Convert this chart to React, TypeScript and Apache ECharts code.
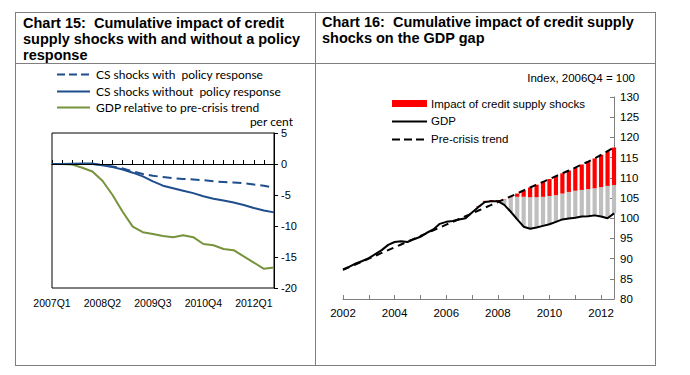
import React, { useEffect, useRef } from "react";
import * as echarts from "echarts";

// ---------- Chart 15 data ----------
const leftQuarters = [
  "2007Q1", "2007Q2", "2007Q3", "2007Q4",
  "2008Q1", "2008Q2", "2008Q3", "2008Q4",
  "2009Q1", "2009Q2", "2009Q3", "2009Q4",
  "2010Q1", "2010Q2", "2010Q3", "2010Q4",
  "2011Q1", "2011Q2", "2011Q3", "2011Q4",
  "2012Q1", "2012Q2", "2012Q3",
];
const withPolicy = [0, 0, 0, 0, 0, -0.2, -0.4, -0.7, -1.2, -1.6, -1.9, -2.1, -2.3, -2.4, -2.5, -2.6, -2.8, -2.9, -3.0, -3.1, -3.3, -3.5, -3.8];
const withoutPolicy = [0, 0, 0.05, 0.1, 0.1, -0.2, -0.5, -0.9, -1.4, -2.0, -2.8, -3.5, -3.9, -4.3, -4.7, -5.2, -5.6, -5.9, -6.2, -6.6, -7.1, -7.5, -7.8];
const gdpVsTrend = [0, 0, -0.1, -0.6, -1.2, -2.7, -5.0, -7.7, -10.1, -11.0, -11.3, -11.6, -11.8, -11.5, -11.8, -12.9, -13.1, -13.7, -13.9, -14.9, -15.9, -16.9, -16.7];
const leftYTicks = { min: -20, max: 5, interval: 5 };
const leftLegend = ["CS shocks with  policy response", "CS shocks without  policy response", "GDP relative to pre-crisis trend"];

// ---------- Chart 16 data ----------
const rightQuarters = [
  "2002Q1", "2002Q2", "2002Q3", "2002Q4",
  "2003Q1", "2003Q2", "2003Q3", "2003Q4",
  "2004Q1", "2004Q2", "2004Q3", "2004Q4",
  "2005Q1", "2005Q2", "2005Q3", "2005Q4",
  "2006Q1", "2006Q2", "2006Q3", "2006Q4",
  "2007Q1", "2007Q2", "2007Q3", "2007Q4",
  "2008Q1", "2008Q2", "2008Q3", "2008Q4",
  "2009Q1", "2009Q2", "2009Q3", "2009Q4",
  "2010Q1", "2010Q2", "2010Q3", "2010Q4",
  "2011Q1", "2011Q2", "2011Q3", "2011Q4",
  "2012Q1", "2012Q2", "2012Q3",
];
const gdpIndex = [
  87.3, 88.0, 88.8, 89.4, 90.1, 91.1, 92.1, 93.4, 94.1, 94.3, 94.1, 94.8, 95.4, 96.4, 97.2, 98.6,
  99.1, 99.3, 99.7, 100.0, 101.4, 102.8, 104.0, 104.2, 104.2, 103.3, 101.6, 99.7, 97.9, 97.4, 97.7,
  98.1, 98.5, 99.1, 99.7, 99.9, 100.1, 100.4, 100.5, 100.7, 100.4, 100.0, 101.2,
];
const preCrisisTrend = [
  87.2, 87.9, 88.6, 89.3, 90.0, 90.7, 91.4, 92.1, 92.8, 93.5, 94.2, 94.9, 95.6, 96.3, 97.0, 97.7,
  98.4, 99.1, 99.8, 100.5, 101.2, 101.9, 102.6, 103.3, 104.0, 104.7, 105.4, 106.1, 106.9, 107.6, 108.3,
  109.0, 109.7, 110.4, 111.1, 111.8, 112.5, 113.3, 114.0, 114.8, 115.7, 116.6, 117.5,
];
// level of the grey bar tops (GDP without credit supply shocks); null where no grey bar
const noShockLevel = [
  null, null, null, null, null, null, null, null, null, null, null, null, null, null, null, null,
  null, null, null, null, null, null, null, null, null, 104.6, 105.2, 105.3, 105.3, 105.2, 105.2,
  105.3, 105.5, 105.7, 106.1, 106.5, 106.8, 107.0, 107.2, 107.4, 107.7, 108.0, 108.2,
];
// red bar heights: impact of credit supply shocks
const shockImpact = [
  null, null, null, null, null, null, null, null, null, null, null, null, null, null, null, null,
  null, null, null, null, null, 0.2, 0.3, 0.3, 0.3, 0.1, 0.2, 0.8, 1.6, 2.4, 3.1,
  3.7, 4.2, 4.7, 5.0, 5.3, 5.7, 6.3, 6.8, 7.4, 8.0, 8.6, 9.3,
];
const rightYTicks = { min: 80, max: 130, interval: 5 };
const rightLegend = ["Impact of credit supply shocks", "GDP", "Pre-crisis trend"];

const FRAME = "#7F7F7F";
const BLUE = "#1F4E8C";
const GREEN = "#77933C";
const ARIAL = "Liberation Sans, Arial, sans-serif";
const CALIBRI = "Lato, 'Open Sans', sans-serif";

export default function App() {
  const ref = useRef<HTMLDivElement>(null);

  useEffect(() => {
    if (!ref.current) return;
    const chart = echarts.init(ref.current, null, { renderer: "svg" });

    const barBase = gdpIndex.map((g, i) => (shockImpact[i] == null ? "-" : g));
    const barGrey = gdpIndex.map((g, i) =>
      shockImpact[i] == null ? "-" : noShockLevel[i] == null ? 0 : +((noShockLevel[i] as number) - g).toFixed(2)
    );
    const barRed = shockImpact.map((v) => (v == null ? "-" : v));

    const titleText = (x: number, y: number, text: string) => ({
      type: "text",
      x,
      y,
      style: { text, fill: "#000", font: `bold 14.5px ${ARIAL}`, verticalAlign: "middle", align: "left" },
    });
    const frameLine = (x1: number, y1: number, x2: number, y2: number) => ({
      type: "line",
      shape: { x1, y1, x2, y2 },
      style: { stroke: FRAME, lineWidth: 1 },
    });
    const legendLine = (x1: number, x2: number, y: number, color: string, dash?: number[]) => ({
      type: "line",
      shape: { x1, y1: y, x2, y2: y },
      style: { stroke: color, lineWidth: 2, lineDash: dash || null },
    });
    const legendText = (x: number, y: number, text: string, font: string) => ({
      type: "text",
      x,
      y,
      style: { text, fill: "#000", font, verticalAlign: "middle", align: "left" },
    });

    const leftFont = `12px ${CALIBRI}`;
    const rightFont = `11.5px ${ARIAL}`;

    const option: any = {
      animation: false,
      backgroundColor: "#fff",
      grid: [
        { left: 52, top: 133, width: 222, height: 155, show: true, borderColor: "#000", borderWidth: 1, backgroundColor: "transparent" },
        { left: 343, top: 97, width: 271, height: 202 },
      ],
      xAxis: [
        {
          type: "category",
          gridIndex: 0,
          data: leftQuarters,
          boundaryGap: false,
          axisLine: { lineStyle: { color: "#000", width: 1 } },
          axisTick: { inside: true, length: 4, interval: 0, lineStyle: { color: "#000" } },
          axisLabel: { interval: 4, fontFamily: ARIAL, fontSize: 10.5, color: "#000", margin: 9 },
          splitLine: { show: false },
        },
        {
          type: "category",
          gridIndex: 1,
          data: rightQuarters,
          boundaryGap: false,
          axisLine: { lineStyle: { color: FRAME, width: 1 } },
          axisTick: { inside: true, length: 4, interval: 3, lineStyle: { color: FRAME } },
          axisLabel: {
            interval: 7,
            fontFamily: ARIAL,
            fontSize: 11.5,
            color: "#000",
            margin: 8,
            formatter: (v: string) => v.slice(0, 4),
          },
          splitLine: { show: false },
        },
      ],
      yAxis: [
        {
          type: "value",
          gridIndex: 0,
          position: "right",
          ...leftYTicks,
          axisLine: { show: true, lineStyle: { color: "#000", width: 1 } },
          axisTick: { show: true, length: 4, lineStyle: { color: "#000" } },
          axisLabel: { fontFamily: ARIAL, fontSize: 11, color: "#000", margin: 7 },
          splitLine: { show: false },
        },
        {
          type: "value",
          gridIndex: 1,
          position: "right",
          ...rightYTicks,
          axisLine: { show: true, lineStyle: { color: FRAME, width: 1 } },
          axisTick: { show: true, inside: true, length: 4, lineStyle: { color: FRAME } },
          axisLabel: { fontFamily: ARIAL, fontSize: 11.5, color: "#000", margin: 6 },
          splitLine: { show: false },
        },
      ],
      series: [
        {
          name: leftLegend[2],
          type: "line",
          xAxisIndex: 0,
          yAxisIndex: 0,
          data: gdpVsTrend,
          symbol: "none",
          lineStyle: { color: GREEN, width: 2 },
          markLine: {
            silent: true,
            symbol: "none",
            label: { show: false },
            lineStyle: { color: "#000", width: 1, type: "solid" },
            data: [{ yAxis: 0 }],
          },
          z: 3,
        },
        {
          name: leftLegend[1],
          type: "line",
          xAxisIndex: 0,
          yAxisIndex: 0,
          data: withoutPolicy,
          symbol: "none",
          lineStyle: { color: BLUE, width: 2 },
          z: 4,
        },
        {
          name: leftLegend[0],
          type: "line",
          xAxisIndex: 0,
          yAxisIndex: 0,
          data: withPolicy,
          symbol: "none",
          lineStyle: { color: BLUE, width: 2, type: [9, 5] },
          z: 4,
        },
        {
          name: "base",
          type: "bar",
          xAxisIndex: 1,
          yAxisIndex: 1,
          stack: "gap",
          data: barBase,
          barWidth: 4.2,
          itemStyle: { color: "rgba(0,0,0,0)" },
          silent: true,
        },
        {
          name: "Unexplained gap",
          type: "bar",
          xAxisIndex: 1,
          yAxisIndex: 1,
          stack: "gap",
          data: barGrey,
          barWidth: 4.2,
          itemStyle: { color: "#BFBFBF" },
        },
        {
          name: rightLegend[0],
          type: "bar",
          xAxisIndex: 1,
          yAxisIndex: 1,
          stack: "gap",
          data: barRed,
          barWidth: 4.2,
          itemStyle: { color: "#FF0000" },
        },
        {
          name: rightLegend[1],
          type: "line",
          xAxisIndex: 1,
          yAxisIndex: 1,
          data: gdpIndex,
          symbol: "none",
          lineStyle: { color: "#000", width: 2 },
          z: 5,
        },
        {
          name: rightLegend[2],
          type: "line",
          xAxisIndex: 1,
          yAxisIndex: 1,
          data: preCrisisTrend,
          symbol: "none",
          lineStyle: { color: "#000", width: 2, type: [7, 5] },
          z: 5,
        },
      ],
      graphic: {
        elements: [
          frameLine(15, 12.5, 656, 12.5),
          frameLine(15, 63.5, 656, 63.5),
          frameLine(15, 365.5, 656, 365.5),
          frameLine(15.5, 12.5, 15.5, 365.5),
          frameLine(315.5, 12.5, 315.5, 365.5),
          frameLine(655.5, 12.5, 655.5, 365.5),
          titleText(23, 23.3, "Chart 15:  Cumulative impact of credit"),
          titleText(23, 39.3, "supply shocks with and without a policy"),
          titleText(23, 55.3, "response"),
          titleText(322, 22.3, "Chart 16:  Cumulative impact of credit supply"),
          titleText(322, 38.3, "shocks on the GDP gap"),
          // left legend
          legendLine(57, 90, 74.5, BLUE, [8, 4]),
          legendText(96, 74, leftLegend[0], leftFont),
          legendLine(57, 90, 91.5, BLUE),
          legendText(96, 91, leftLegend[1], leftFont),
          legendLine(57, 90, 107.5, GREEN),
          legendText(96, 107, leftLegend[2], leftFont),
          {
            type: "text",
            x: 293,
            y: 121,
            style: { text: "per cent", fill: "#000", font: leftFont, align: "right", verticalAlign: "middle" },
          },
          // right legend
          { type: "rect", shape: { x: 392, y: 100, width: 35, height: 7 }, style: { fill: "#FF0000" } },
          legendText(431, 103.5, rightLegend[0], rightFont),
          legendLine(392, 427, 121.5, "#000"),
          legendText(431, 121, rightLegend[1], rightFont),
          legendLine(392, 427, 139.5, "#000", [8, 4]),
          legendText(431, 139, rightLegend[2], rightFont),
          {
            type: "text",
            x: 635,
            y: 78,
            style: { text: "Index, 2006Q4 = 100", fill: "#000", font: rightFont, align: "right", verticalAlign: "middle" },
          },
        ],
      },
    };

    chart.setOption(option);
    return () => chart.dispose();
  }, []);

  return (
    <div
      ref={ref}
      style={{ position: "fixed", left: 0, top: 0, width: 690, height: 375, background: "#fff" }}
    />
  );
}
